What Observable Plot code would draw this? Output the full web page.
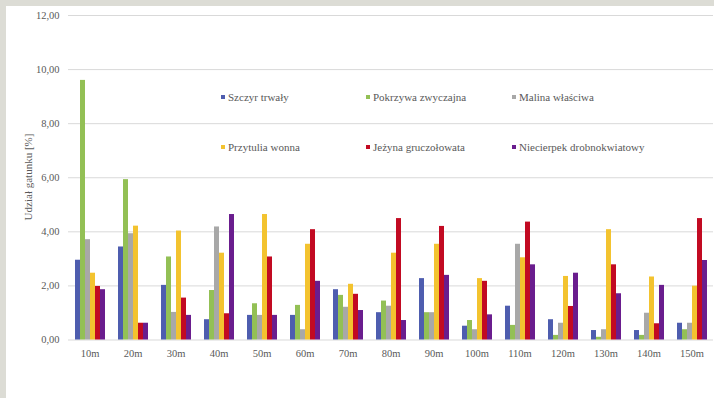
<!DOCTYPE html>
<html>
<head>
<meta charset="utf-8">
<script src="https://cdn.jsdelivr.net/npm/d3@7"></script>
<script src="https://cdn.jsdelivr.net/npm/@observablehq/plot@0.6"></script>
<style>
  html, body { margin: 0; padding: 0; background: #dcdcd5; }
  #panel { position: absolute; left: 6px; top: 6px; width: 708px; height: 392px; background: #ffffff; overflow: hidden; }
  #chart { position: absolute; left: 0; top: 0; }
  .ytitle { position: absolute; left: 22px; top: 171px; transform: translate(-50%, -50%) rotate(-90deg);
    font-family: 'Liberation Serif', 'Times New Roman', 'DejaVu Serif', serif; font-size: 11px; color: #595959; white-space: nowrap; }
  .leg { position: absolute; font-family: 'Liberation Serif', 'Times New Roman', 'DejaVu Serif', serif; font-size: 11px; color: #595959; white-space: nowrap; line-height: 12px; }
  .leg span.sw { display: inline-block; width: 4px; height: 4px; margin-right: 3px; vertical-align: middle; position: relative; top: -1px; }
</style>
</head>
<body>
<div id="panel">
  <div id="chart"></div>
  <div class="ytitle">Udział gatunku [%]</div>
  <div id="legend"></div>
</div>
<script>
const categories = ["10m","20m","30m","40m","50m","60m","70m","80m","90m","100m","110m","120m","130m","140m","150m"];
const series = ["Szczyr trwały","Pokrzywa zwyczajna","Malina właściwa","Przytulia wonna","Jeżyna gruczołowata","Niecierpek drobnokwiatowy"];
const colors = ["#4e5daf","#93c055","#a8a8a8","#f3c32f","#c20a22","#6a1d8e"];

const szczyr     = [2.95,3.44,2.02,0.75,0.91,0.91,1.86,1.01,2.27,0.51,1.25,0.75,0.35,0.35,0.62];
const pokrzywa   = [9.60,5.93,3.07,1.83,1.34,1.28,1.65,1.44,1.01,0.72,0.54,0.17,0.10,0.17,0.38];
const malina     = [3.71,3.93,1.02,4.18,0.91,0.38,1.21,1.25,1.01,0.38,3.54,0.62,0.38,0.99,0.62];
const przytulia  = [2.47,4.21,4.03,3.21,4.64,3.54,2.06,3.21,3.54,2.27,3.04,2.35,4.08,2.33,1.99];
const jezyna     = [1.98,0.62,1.55,0.97,3.07,4.08,1.69,4.49,4.20,2.17,4.36,1.24,2.78,0.60,4.49];
const niecierpek = [1.86,0.62,0.91,4.64,0.91,2.17,1.09,0.72,2.39,0.93,2.78,2.47,1.71,2.02,2.94];

const yTicks = [0,2,4,6,8,10,12];

const seriesValues = [szczyr, pokrzywa, malina, przytulia, jezyna, niecierpek];
const data = [];
categories.forEach((c, i) => {
  series.forEach((s, j) => data.push({cat: c, series: s, value: seriesValues[j][i]}));
});

const chart = Plot.plot({
  width: 708,
  height: 392,
  marginLeft: 61,
  marginRight: 0,
  marginTop: 9,
  marginBottom: 58.5,
  style: {fontFamily: "'Liberation Serif', 'Times New Roman', 'DejaVu Serif', serif", fontSize: "10.5px", color: "#595959", background: "transparent"},
  fx: {domain: categories, padding: 0, label: null},
  x: {domain: series, paddingInner: 0, paddingOuter: 0.92, axis: null},
  y: {domain: [0, 12], axis: null},
  color: {domain: series, range: colors},
  marks: [
    Plot.gridY(yTicks, {stroke: "#d9d9d9", strokeOpacity: 1}),
    Plot.axisY(yTicks, {tickSize: 0, tickPadding: 9, label: null, fontSize: 10.5,
      tickFormat: d => d.toFixed(2).replace(".", ",")}),
    Plot.axisFx({anchor: "bottom", tickSize: 0, tickPadding: 10, label: null}),
    Plot.barY(data, {fx: "cat", x: "series", y: "value", fill: "series"})
  ]
});
document.getElementById("chart").appendChild(chart);

// legend
const legend = document.getElementById("legend");
const colX = [215, 360, 506];
const rowY = [85, 135];
series.forEach((s, j) => {
  const d = document.createElement("div");
  d.className = "leg";
  d.style.left = colX[j % 3] + "px";
  d.style.top = rowY[Math.floor(j / 3)] + "px";
  const sw = document.createElement("span");
  sw.className = "sw";
  sw.style.background = colors[j];
  d.appendChild(sw);
  d.appendChild(document.createTextNode(s));
  legend.appendChild(d);
});
</script>
</body>
</html>
